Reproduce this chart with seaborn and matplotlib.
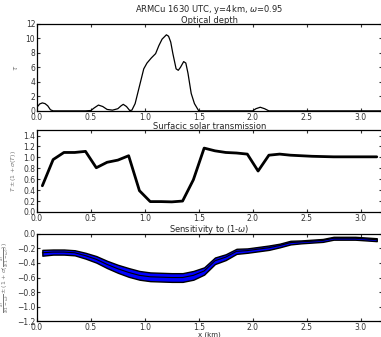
import numpy as np
import pandas as pd
import seaborn as sns
from matplotlib import pyplot as plt

# optical depth profile
tau_x = [0.0, 0.025, 0.05, 0.075, 0.1, 0.125, 0.15, 0.3, 0.45, 0.5, 0.53, 0.57, 0.61, 0.65, 0.7, 0.75, 0.78,
         0.8, 0.83, 0.86, 0.88, 0.91, 0.94, 0.97, 0.99, 1.02, 1.06, 1.1, 1.13, 1.16, 1.2, 1.22, 1.24, 1.26,
         1.29, 1.31, 1.33, 1.36, 1.38, 1.4, 1.43, 1.46, 1.5, 1.7, 2.0, 2.03, 2.07, 2.11, 2.15, 2.5, 3.2]
tau = [0.5, 0.95, 1.1, 1.0, 0.7, 0.15, 0.0, 0.0, 0.0, 0.05, 0.4, 0.8, 0.6, 0.2, 0.1, 0.3, 0.7,
       0.9, 0.6, 0.05, 0.1, 1.0, 2.8, 4.6, 5.8, 6.6, 7.3, 7.9, 9.0, 9.9, 10.5, 10.3, 9.5, 7.9,
       5.8, 5.6, 6.0, 6.8, 6.6, 5.2, 2.4, 1.0, 0.0, 0.0, 0.0, 0.3, 0.5, 0.3, 0.0, 0.0, 0.0]

# column centres for the transmission / sensitivity profiles
col_x = [0.05, 0.15, 0.25, 0.35, 0.45, 0.55, 0.65, 0.75, 0.85, 0.95, 1.05, 1.15, 1.25, 1.35, 1.45, 1.55,
         1.65, 1.75, 1.85, 1.95, 2.05, 2.15, 2.25, 2.35, 2.45, 2.55, 2.65, 2.75, 2.85, 2.95, 3.05, 3.15]
trans = [0.48, 0.96, 1.09, 1.09, 1.11, 0.81, 0.91, 0.95, 1.03, 0.39, 0.19, 0.19, 0.185, 0.2, 0.59, 1.17,
         1.12, 1.09, 1.08, 1.06, 0.75, 1.04, 1.06, 1.04, 1.03, 1.02, 1.015, 1.01, 1.01, 1.01, 1.01, 1.01]
sens = [-0.26, -0.25, -0.25, -0.26, -0.3, -0.35, -0.42, -0.48, -0.53, -0.57, -0.59, -0.595, -0.6, -0.6,
        -0.57, -0.51, -0.37, -0.32, -0.24, -0.23, -0.21, -0.19, -0.16, -0.12, -0.11, -0.1, -0.09, -0.06,
        -0.06, -0.06, -0.07, -0.08]
sens_err = [0.04, 0.035, 0.035, 0.035, 0.04, 0.045, 0.05, 0.055, 0.06, 0.06, 0.06, 0.06, 0.06, 0.06, 0.06,
            0.05, 0.045, 0.04, 0.035, 0.03, 0.03, 0.03, 0.025, 0.025, 0.02, 0.02, 0.02, 0.02, 0.02, 0.02,
            0.02, 0.02]

sns.set_style('ticks', {'xtick.direction': 'in', 'ytick.direction': 'in',
                        'axes.edgecolor': 'black'})
plt.rcParams['font.family'] = ['DejaVu Sans']
plt.rcParams['font.size'] = 6
plt.rcParams['xtick.labelsize'] = 5.5
plt.rcParams['ytick.labelsize'] = 5.5
plt.rcParams['xtick.color'] = '#333333'
plt.rcParams['ytick.color'] = '#333333'
plt.rcParams['xtick.major.size'] = 2
plt.rcParams['ytick.major.size'] = 2

fig = plt.figure(figsize=(3.81, 3.37), dpi=100)
ax1 = fig.add_axes([0.097, 0.671, 0.906, 0.258])
ax2 = fig.add_axes([0.097, 0.371, 0.906, 0.243])
ax3 = fig.add_axes([0.097, 0.047, 0.906, 0.259])

df_tau = pd.DataFrame({'x': tau_x, 'tau': tau})
df_col = pd.DataFrame({'x': col_x, 'T': trans, 's': sens, 'e': sens_err})

sns.lineplot(data=df_tau, x='x', y='tau', ax=ax1, color='black', linewidth=0.9)
ax1.set_ylim(0, 12)
ax1.set_yticks(range(0, 13, 2))
ax1.set_ylabel(r'$\tau$', color='#777777', fontsize=5)
ax1.set_title('ARMCu 1630 UTC, y=4km, $\\omega$=0.95\nOptical depth', fontsize=6, pad=1, linespacing=1.0)

sns.lineplot(data=df_col, x='x', y='T', ax=ax2, color='black', linewidth=2)
ax2.set_ylim(0, 1.5)
ax2.set_yticks(np.arange(0, 1.41, 0.2))
ax2.set_ylabel(r'$T\pm(1+\sigma(T))$', color='#777777', fontsize=4.5)
ax2.set_title('Surfacic solar transmission', fontsize=6, pad=1)

ax3.fill_between(df_col['x'], df_col['s'] - df_col['e'], df_col['s'] + df_col['e'],
                 facecolor='#0000ff', edgecolor='black', linewidth=1)
sns.lineplot(data=df_col, x='x', y='s', ax=ax3, color='black', linewidth=0.8)
ax3.set_ylim(-1.2, 0.0)
ax3.set_yticks(np.arange(-1.2, 0.01, 0.2))
ax3.set_ylabel(r'$\frac{\partial T}{\partial(1-\omega)}\pm(1+\sigma(\frac{\partial T}{\partial(1-\omega)}))$',
               color='#777777', fontsize=4.5)
ax3.set_title('Sensitivity to (1-$\\omega$)', fontsize=6, pad=1)

for ax in (ax1, ax2, ax3):
    ax.set_xlim(0, 3.2)
    ax.set_xticks(np.arange(0, 3.01, 0.5))
    ax.tick_params(top=True, right=True, pad=1.2)
    ax.yaxis.labelpad = 4
    for sp in ax.spines.values():
        sp.set_linewidth(0.9)
    ax.set_xlabel('')

ax3.set_xlabel('x (km)', fontsize=5, labelpad=0)

fig.savefig('out.png', dpi=100)
